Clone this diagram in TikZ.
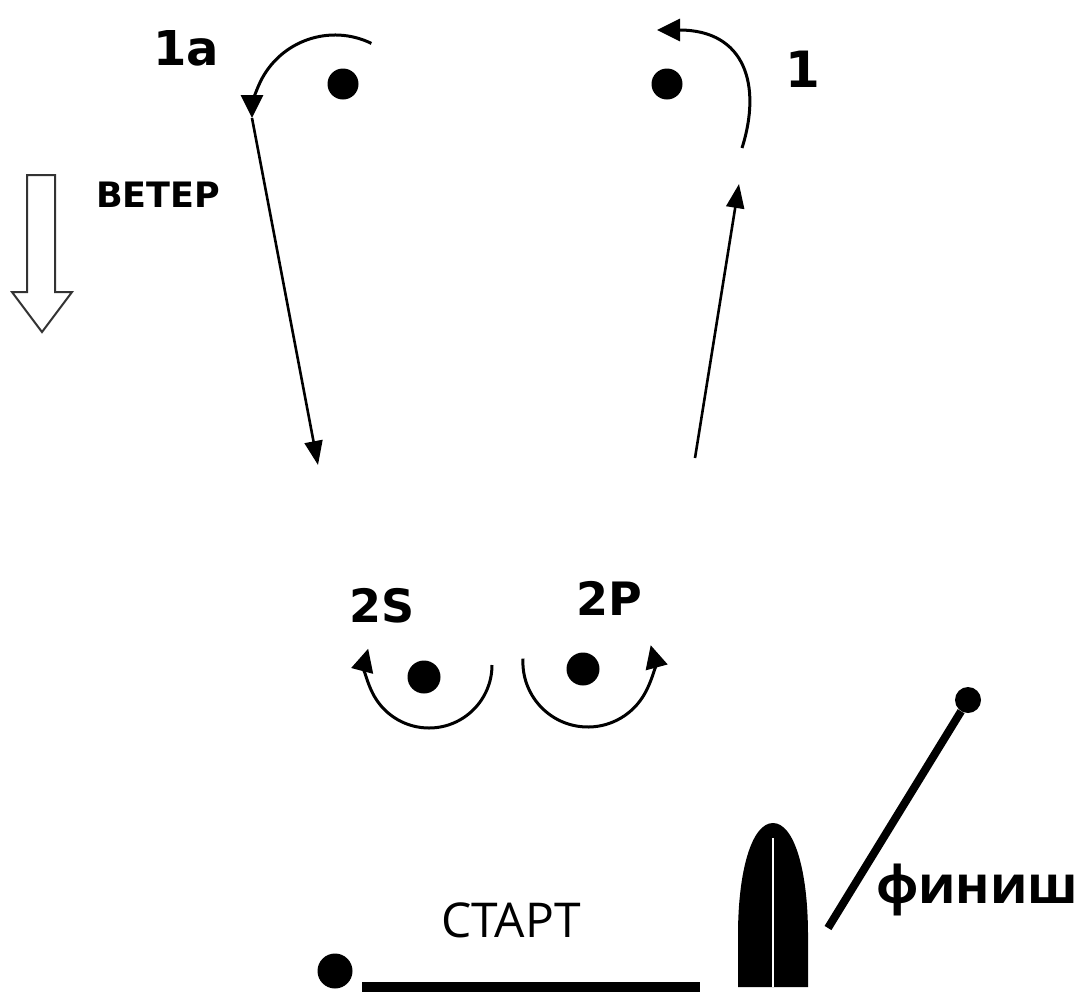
\documentclass[tikz,border=0pt]{standalone}
\usepackage{fontspec}
\setmainfont{DejaVu Sans}
\newfontfamily\osans{Open Sans}
\usetikzlibrary{arrows.meta}
\tikzset{
  markdot/.style={circle,fill=black,inner sep=0pt,minimum size=#1},
  course/.style={line width=3pt,-{Triangle[length=23pt,width=22pt]}},
  leg/.style={line width=2.6pt,-{Triangle[length=24pt,width=18pt]}},
  lbl/.style={anchor=base west,inner sep=0pt},
}
\begin{document}
\begin{tikzpicture}[x=1pt,y=-1pt]
\useasboundingbox (0,0) rectangle (1090,994);
% marks
\node[markdot=31pt] (m1a) at (343,84) {};
\node[markdot=31pt] (m1) at (667,84) {};
\node[markdot=33pt] (m2s) at (424,677) {};
\node[markdot=33pt] (m2p) at (583,669) {};
\node[markdot=26pt] (mf) at (968,700) {};
\node[markdot=35pt] (ms) at (335,971) {};
% labels
\node[lbl,font=\bfseries\fontsize{48}{50}\selectfont] (t1a) at (153,65) {1a};
\node[lbl,font=\bfseries\fontsize{50}{52}\selectfont] (t1) at (785,87) {1};
\node[lbl,font=\bfseries\fontsize{35}{40}\selectfont] (tw) at (96,207) {ВЕТЕР};
\node[lbl,font=\bfseries\fontsize{46}{50}\selectfont] (t2s) at (349,622) {2S};
\node[lbl,font=\bfseries\fontsize{46}{50}\selectfont] (t2p) at (576,615) {2P};
\node[lbl,font=\osans\fontsize{48}{50}\selectfont] (tst) at (441,937) {СТАРТ};
\node[lbl,font=\osans\bfseries\fontsize{52}{56}\selectfont] (tfin) at (876,903) {финиш};
% course around 1a
\coordinate (a1s) at (371.4,43.4);
\coordinate (a1e) at (252,118);
\coordinate (b1) at (318,465);
\draw[course] (a1s) arc[start angle=-64,end angle=-180,radius=83];
\draw[leg] (a1e) -- (b1);
% course around 1
\coordinate (c1s) at (742,148);
\coordinate (c1e) at (657,30);
\coordinate (d1s) at (695,458);
\coordinate (d1e) at (739,184);
\draw[leg] (d1s) -- (d1e);
\draw[course] (c1s) .. controls (762,85) and (745,30) .. (c1e);
% gate 2S / 2P
\coordinate (s2s) at (492,665);
\coordinate (p2s) at (523,658.6);
\draw[course] (s2s) arc[start angle=0,end angle=195,radius=63];
\draw[course] (p2s) arc[start angle=183,end angle=-15,radius=65];
% wind arrow
\draw[line width=2pt,black!80] (27,175) -- (55,175) -- (55,292) -- (72,292) -- (42,332) -- (12,292) -- (27,292) -- cycle;
% start line
\coordinate (sl1) at (362,987);
\coordinate (sl2) at (700,987);
\draw[line width=10pt] (sl1) -- (sl2);
% committee boat
\fill (738,987) -- (738,935) .. controls (738,870) and (752,823) .. (773,823) .. controls (794,823) and (808,870) .. (808,935) -- (808,987) -- cycle;
\draw[white,line width=1.5pt] (773,838) -- (773,987);
% finish line
\coordinate (fl) at (828,928);
\draw[line width=8pt] (mf) -- (fl);
\end{tikzpicture}
\end{document}
